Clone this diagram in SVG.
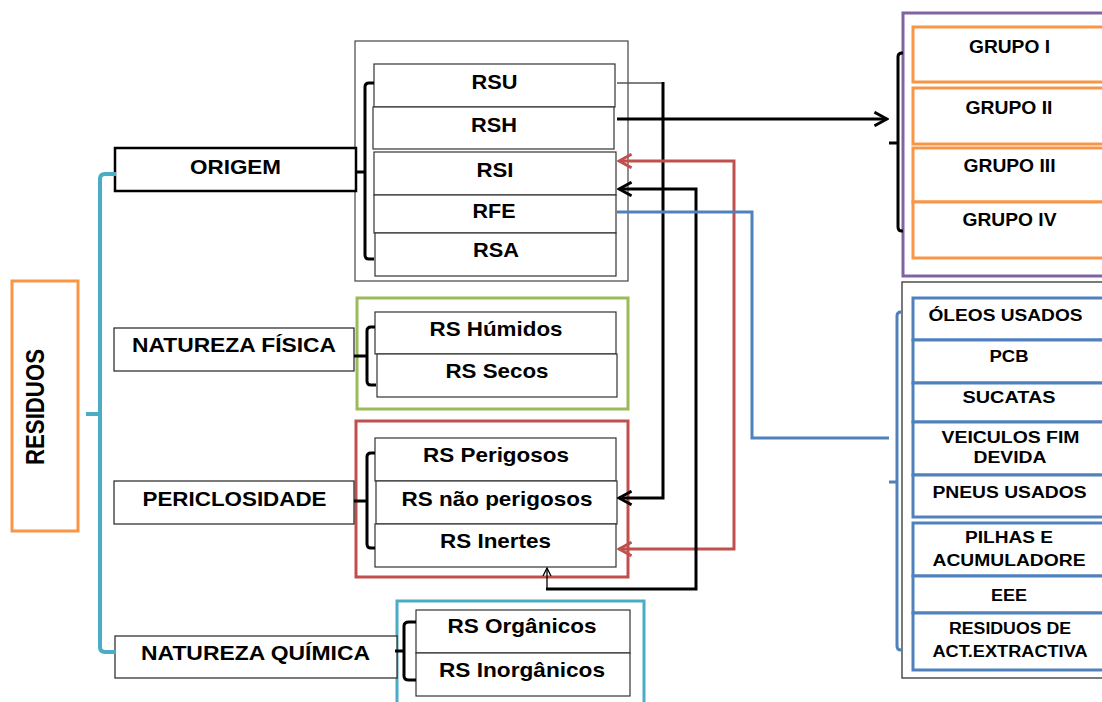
<svg xmlns="http://www.w3.org/2000/svg" width="1102" height="702" viewBox="0 0 1102 702">
<defs>
<style>
.t{font-family:"Liberation Sans",Arial,sans-serif;font-weight:bold;fill:#000;text-anchor:middle}
.L{font-size:21px}
.G{font-size:18px}
.S{font-size:16px}
.item{fill:#fff;stroke:#333;stroke-width:1.2}
.cat{fill:#fff;stroke:#222;stroke-width:1.2}
.br{fill:none;stroke:#000;stroke-width:3}
.or{fill:#fff;stroke:#F79646;stroke-width:3}
.bl{fill:#fff;stroke:#4F81BD;stroke-width:3}
.k{fill:none;stroke:#000;stroke-width:3}
.r{fill:none;stroke:#C0504D;stroke-width:3}
.b{fill:none;stroke:#4F81BD;stroke-width:3}
</style>
<marker id="ak" markerUnits="userSpaceOnUse" markerWidth="16" markerHeight="16" viewBox="0 0 14 14" refX="12" refY="7" orient="auto-start-reverse"><path d="M1,1 L12,7 L1,13" fill="none" stroke="#000" stroke-width="2.5"/></marker>
<marker id="ar" markerUnits="userSpaceOnUse" markerWidth="16" markerHeight="16" viewBox="0 0 14 14" refX="12" refY="7" orient="auto-start-reverse"><path d="M1,1 L12,7 L1,13" fill="none" stroke="#C0504D" stroke-width="2.5"/></marker>
<marker id="as" markerUnits="userSpaceOnUse" markerWidth="10" markerHeight="10" viewBox="0 0 10 10" refX="9" refY="5" orient="auto"><path d="M1,1 L9,5 L1,9" fill="none" stroke="#000" stroke-width="1.3"/></marker>
</defs>
<rect width="1102" height="702" fill="#fff"/>

<!-- containers -->
<g id="origem-group"><rect x="355" y="41" width="273" height="240" fill="#fff" stroke="#444" stroke-width="1.2"/></g>
<g id="fisica-group"><rect x="357" y="298" width="271" height="111" fill="#fff" stroke="#9BBB59" stroke-width="3"/></g>
<g id="periclosidade-group"><rect x="356" y="421" width="272" height="156" fill="#fff" stroke="#C0504D" stroke-width="3"/></g>
<g id="quimica-group"><rect x="397" y="601" width="247" height="120" fill="#fff" stroke="#4BACC6" stroke-width="3"/></g>
<g id="grupos-group"><rect x="903" y="13" width="220" height="263" fill="#fff" stroke="#8064A2" stroke-width="3"/></g>
<g id="especiais-group"><rect x="902" y="282" width="220" height="396" fill="#fff" stroke="#222" stroke-width="1.2"/></g>

<g id="residuos"><rect x="12" y="281" width="66" height="250" fill="#fff" stroke="#F79646" stroke-width="3"/>
<text class="t" font-size="22" textLength="116" lengthAdjust="spacingAndGlyphs" transform="translate(44,407) rotate(-90) scale(1,1.2)">RESIDUOS</text></g>

<g id="origem"><rect x="115" y="148" width="241" height="43" fill="#fff" stroke="#000" stroke-width="2.5"/>
<text class="t L" x="235.5" y="174" textLength="91" lengthAdjust="spacingAndGlyphs">ORIGEM</text></g>
<g id="natureza-fisica"><rect class="cat" x="114" y="328" width="240" height="43"/>
<text class="t L" x="234" y="352" textLength="204" lengthAdjust="spacingAndGlyphs">NATUREZA FÍSICA</text></g>
<g id="periclosidade"><rect class="cat" x="114" y="481" width="240" height="43"/>
<text class="t L" x="234.5" y="506" textLength="184" lengthAdjust="spacingAndGlyphs">PERICLOSIDADE</text></g>
<g id="natureza-quimica"><rect class="cat" x="115" y="636" width="282" height="42"/>
<text class="t L" x="255.5" y="660" textLength="229" lengthAdjust="spacingAndGlyphs">NATUREZA QUÍMICA</text></g>

<g id="rsu"><rect class="item" x="374" y="64" width="241" height="43"/><text class="t L" x="494.5" y="89" textLength="46" lengthAdjust="spacingAndGlyphs">RSU</text></g>
<g id="rsh"><rect class="item" x="373" y="107" width="241" height="42"/><text class="t L" x="494" y="131.5" textLength="46" lengthAdjust="spacingAndGlyphs">RSH</text></g>
<g id="rsi"><rect class="item" x="374" y="152" width="242" height="43"/><text class="t L" x="495" y="176.5" textLength="37" lengthAdjust="spacingAndGlyphs">RSI</text></g>
<g id="rfe"><rect class="item" x="374" y="195" width="242" height="38"/><text class="t L" x="494" y="218" textLength="43" lengthAdjust="spacingAndGlyphs">RFE</text></g>
<g id="rsa"><rect class="item" x="375" y="233" width="241" height="43"/><text class="t L" x="496" y="257" textLength="46" lengthAdjust="spacingAndGlyphs">RSA</text></g>

<g id="rs-humidos"><rect class="item" x="375" y="312" width="241" height="42"/><text class="t L" x="496" y="336" textLength="133" lengthAdjust="spacingAndGlyphs">RS Húmidos</text></g>
<g id="rs-secos"><rect class="item" x="377" y="354" width="240" height="43"/><text class="t L" x="497" y="378" textLength="103" lengthAdjust="spacingAndGlyphs">RS Secos</text></g>

<g id="rs-perigosos"><rect class="item" x="375" y="438" width="241" height="43"/><text class="t L" x="496" y="462" textLength="146" lengthAdjust="spacingAndGlyphs">RS Perigosos</text></g>
<g id="rs-nao-perigosos"><rect class="item" x="376" y="481" width="241" height="43"/><text class="t L" x="497" y="506" textLength="191" lengthAdjust="spacingAndGlyphs">RS não perigosos</text></g>
<g id="rs-inertes"><rect class="item" x="375" y="524" width="241" height="43"/><text class="t L" x="495.5" y="548" textLength="111" lengthAdjust="spacingAndGlyphs">RS Inertes</text></g>

<g id="rs-organicos"><rect class="item" x="416" y="610" width="214" height="43"/><text class="t L" x="522" y="633" textLength="149" lengthAdjust="spacingAndGlyphs">RS Orgânicos</text></g>
<g id="rs-inorganicos"><rect class="item" x="416" y="653" width="214" height="43"/><text class="t L" x="522" y="677" textLength="166" lengthAdjust="spacingAndGlyphs">RS Inorgânicos</text></g>

<g id="grupo-1"><rect class="or" x="913" y="27" width="200" height="55"/><text class="t G" x="1009.5" y="53" textLength="81" lengthAdjust="spacingAndGlyphs">GRUPO I</text></g>
<g id="grupo-2"><rect class="or" x="913" y="88" width="200" height="56"/><text class="t G" x="1009" y="114" textLength="87" lengthAdjust="spacingAndGlyphs">GRUPO II</text></g>
<g id="grupo-3"><rect class="or" x="913" y="148" width="200" height="54"/><text class="t G" x="1009.5" y="172" textLength="92" lengthAdjust="spacingAndGlyphs">GRUPO III</text></g>
<g id="grupo-4"><rect class="or" x="913" y="202" width="200" height="56"/><text class="t G" x="1009.5" y="226" textLength="94" lengthAdjust="spacingAndGlyphs">GRUPO IV</text></g>

<g id="oleos"><rect class="bl" x="913" y="298" width="200" height="42"/><text class="t S" x="1005.5" y="321" textLength="154" lengthAdjust="spacingAndGlyphs">ÓLEOS USADOS</text></g>
<g id="pcb"><rect class="bl" x="913" y="340" width="200" height="43"/><text class="t S" x="1009" y="362" textLength="39" lengthAdjust="spacingAndGlyphs">PCB</text></g>
<g id="sucatas"><rect class="bl" x="913" y="383" width="200" height="39"/><text class="t S" x="1009" y="403" textLength="93" lengthAdjust="spacingAndGlyphs">SUCATAS</text></g>
<g id="veiculos"><rect class="bl" x="913" y="422" width="200" height="53"/><text class="t S" x="1010.5" y="443" textLength="138" lengthAdjust="spacingAndGlyphs">VEICULOS FIM</text><text class="t S" x="1010" y="463" textLength="73" lengthAdjust="spacingAndGlyphs">DEVIDA</text></g>
<g id="pneus"><rect class="bl" x="913" y="475" width="200" height="42"/><text class="t S" x="1009.5" y="498" textLength="154" lengthAdjust="spacingAndGlyphs">PNEUS USADOS</text></g>
<g id="pilhas"><rect class="bl" x="913" y="523" width="200" height="53"/><text class="t S" x="1009" y="543" textLength="88" lengthAdjust="spacingAndGlyphs">PILHAS E</text><text class="t S" x="1009" y="566" textLength="153" lengthAdjust="spacingAndGlyphs">ACUMULADORE</text></g>
<g id="eee"><rect class="bl" x="913" y="576" width="200" height="37"/><text class="t S" x="1009" y="601" textLength="36" lengthAdjust="spacingAndGlyphs">EEE</text></g>
<g id="extractiva"><rect class="bl" x="913" y="613" width="200" height="57"/><text class="t S" x="1010" y="634" textLength="122" lengthAdjust="spacingAndGlyphs">RESIDUOS DE</text><text class="t S" x="1010" y="657" textLength="155" lengthAdjust="spacingAndGlyphs">ACT.EXTRACTIVA</text></g>

<g id="connectors">
<!-- brackets -->
<path d="M116,174 H105 Q100,174 100,179 V647 Q100,652 105,652 H116 M86,414 H100" fill="none" stroke="#4BACC6" stroke-width="4"/>
<path class="br" d="M374,83 H369 Q365,83 365,87 V255 Q365,259 369,259 H374 M356,172 H365"/>
<path class="br" d="M375,327 H371 Q367,327 367,331 V381 Q367,385 371,385 H376 M354,356 H367"/>
<path class="br" d="M375,453 H371 Q367,453 367,457 V544 Q367,548 371,548 H375 M354,501 H367"/>
<path class="br" d="M416,622 H409 Q404,622 404,626 V676 Q404,680 409,680 H416 M395,651 H404"/>
<path class="br" d="M903,53 H902 Q898,53 898,57 V227 Q898,231 902,231 H903 M889,143 H898"/>
<path class="b" d="M902,312 H901 Q897,312 897,316 V646 Q897,650 901,650 H902 M889,482 H897"/>
<!-- links -->
<path d="M617,83 H663" fill="none" stroke="#555" stroke-width="1.5"/>
<path class="k" d="M663,82 V498 H619" marker-end="url(#ak)"/>
<path class="k" d="M617,119 H887" marker-end="url(#ak)"/>
<path class="r" d="M619,161 H734 V549 H619" marker-start="url(#ar)" marker-end="url(#ar)"/>
<path class="k" d="M619,189 H696 V589 H546" marker-start="url(#ak)"/>
<path d="M547,589 V568" fill="none" stroke="#000" stroke-width="1.3" marker-end="url(#as)"/>
<path class="b" d="M617,212 H752 V438 H889"/>
</g>
</svg>
